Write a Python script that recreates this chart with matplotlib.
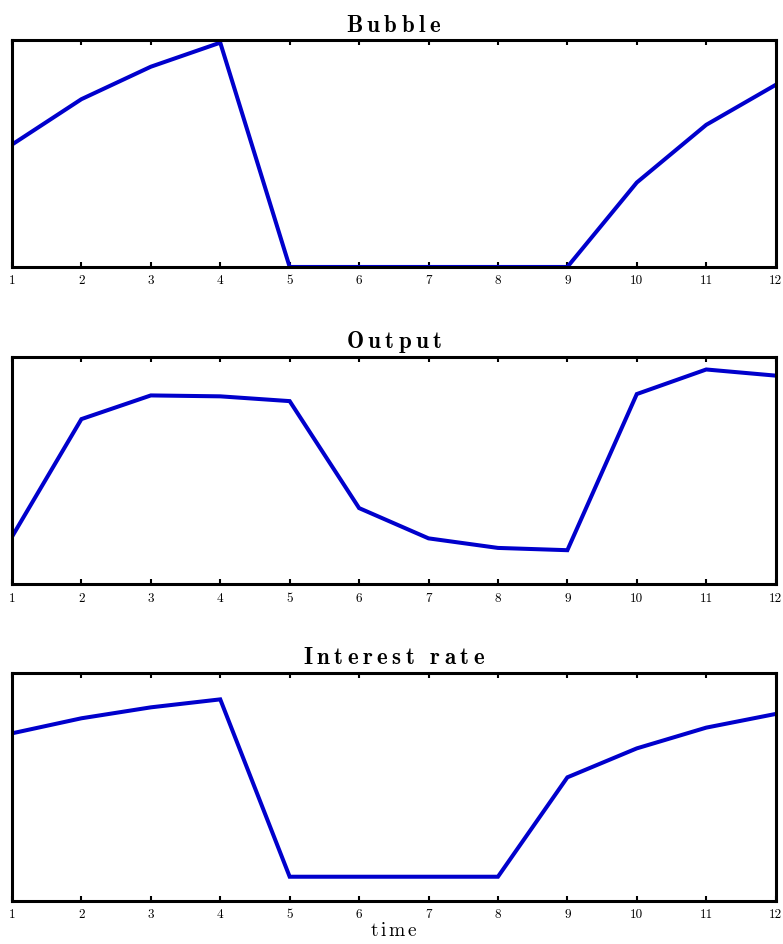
import numpy as np
import matplotlib
matplotlib.use("Agg")
import matplotlib.pyplot as plt

# impulse responses over 12 periods (normalised units)
periods = np.arange(1, 13)
bubble = [0.539, 0.739, 0.882, 0.988, 0.0, 0.0, 0.0, 0.0, 0.0, 0.372, 0.626, 0.802]
output = [0.209, 0.726, 0.830, 0.826, 0.805, 0.335, 0.202, 0.160, 0.150, 0.836, 0.944, 0.917]
interest = [0.734, 0.800, 0.848, 0.883, 0.105, 0.105, 0.105, 0.105, 0.541, 0.668, 0.759, 0.819]
titles = ["Bubble", "Output", "Interest rate"]

plt.rcParams['axes.formatter.use_mathtext'] = True
plt.rcParams['mathtext.fontset'] = 'cm'


def spaced(s, cmd, gap):
    # letter-spaced mathtext string, words separated by an extra space
    words = [gap.join(w) for w in s.split(' ')]
    return '$' + cmd + '{' + (gap + r'\ ' + gap).join(words) + '}$'


fig = plt.figure(figsize=(7.83, 9.44), dpi=100)
bottoms = [0.7172, 0.3810, 0.0459]
heights = [0.2405, 0.2411, 0.2415]

for series, title, b, h in zip([bubble, output, interest], titles, bottoms, heights):
    ax = fig.add_axes([0.0153, b, 0.9753, h])
    ax.plot(periods, series, color='#0000cc', lw=2.9, solid_joinstyle='miter')
    ax.set_xlim(1, 12)
    ax.set_ylim(0, 1)
    ax.set_xticks(periods)
    ax.set_xticklabels([str(p) for p in periods], family='cmr10', fontsize=9.5)
    ax.set_yticks([])
    ax.tick_params(axis='x', direction='in', top=True, length=3.5, width=1.5, pad=6)
    for sp in ax.spines.values():
        sp.set_linewidth(2.2)
    ax.set_title(spaced(title, r'\mathbf', r'\:'), fontsize=16.5, pad=6)

ax.set_xlabel(spaced("time", r'\mathrm', r'\,'), fontsize=14, labelpad=0)

fig.savefig("out.png", dpi=100)
